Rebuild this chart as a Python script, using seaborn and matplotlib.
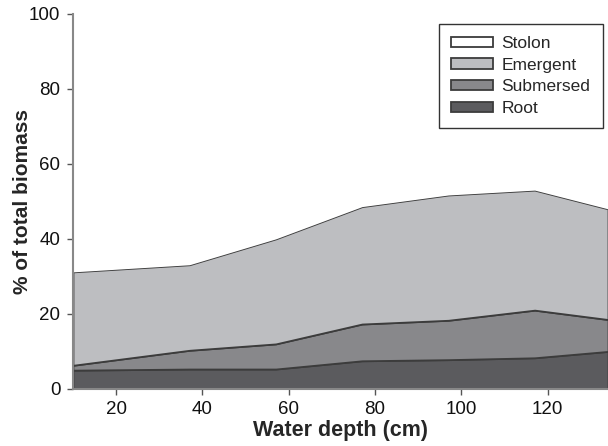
import seaborn as sns
import matplotlib.pyplot as plt
import numpy as np

sns.set_style("ticks")
plt.rcParams['font.family'] = ['Liberation Sans', 'DejaVu Sans']

# Water depth (cm) and biomass share (%) per organ
depth = [10, 37, 57, 77, 97, 117, 134]
root = [5.0, 5.3, 5.3, 7.5, 7.8, 8.3, 10.0]
submersed = [1.3, 5.0, 6.7, 9.8, 10.5, 12.7, 8.5]
emergent = [24.9, 22.8, 28.0, 31.3, 33.4, 32.0, 29.5]
stolon = [68.8, 66.9, 60.0, 51.4, 48.3, 47.0, 52.0]

labels = ["Root", "Submersed", "Emergent", "Stolon"]
colors = ["#5b5b5e", "#88888b", "#bdbec1", "#ffffff"]

fig = plt.figure(figsize=(6.08, 4.46), dpi=100)
ax = fig.add_axes([0.12, 0.128, 0.88, 0.841])

polys = ax.stackplot(depth, root, submersed, emergent, stolon,
                     labels=labels, colors=colors,
                     edgecolor="#3c3c3c", linewidth=1.3)
polys[-1].set_linewidth(0)
polys[-1].set_edgecolor("black")

ax.set_xlim(10, 134)
ax.set_ylim(0, 100)
ax.set_xticks([20, 40, 60, 80, 100, 120])
ax.set_yticks([0, 20, 40, 60, 80, 100])
ax.tick_params(axis="both", labelsize=13.5, length=4, width=1, color="#555555",
               direction="out", pad=5, labelcolor="#111111")

for side in ["top", "right"]:
    ax.spines[side].set_visible(False)
for side in ["left", "bottom"]:
    ax.spines[side].set_color("#888888")
    ax.spines[side].set_linewidth(1.5)

ax.set_xlabel("Water depth (cm)", fontsize=15.5, fontweight="bold", labelpad=1)
ax.set_ylabel("% of total biomass", fontsize=15, fontweight="bold")
ax.yaxis.set_label_coords(-0.076, 0.5)

handles, labs = ax.get_legend_handles_labels()
leg = ax.legend(handles[::-1], labs[::-1], loc="upper right",
                bbox_to_anchor=(0.997, 0.983), fontsize=12.5, frameon=True,
                fancybox=False, edgecolor="black", handlelength=2.4,
                handleheight=0.55, borderpad=0.72, labelspacing=0.38,
                handletextpad=0.5, borderaxespad=0.2)
leg.get_frame().set_linewidth(1.0)
for h in leg.legend_handles:
    h.set_edgecolor("#3c3c3c")
    h.set_linewidth(1.3)

plt.savefig("out.png", dpi=100)
plt.close()
